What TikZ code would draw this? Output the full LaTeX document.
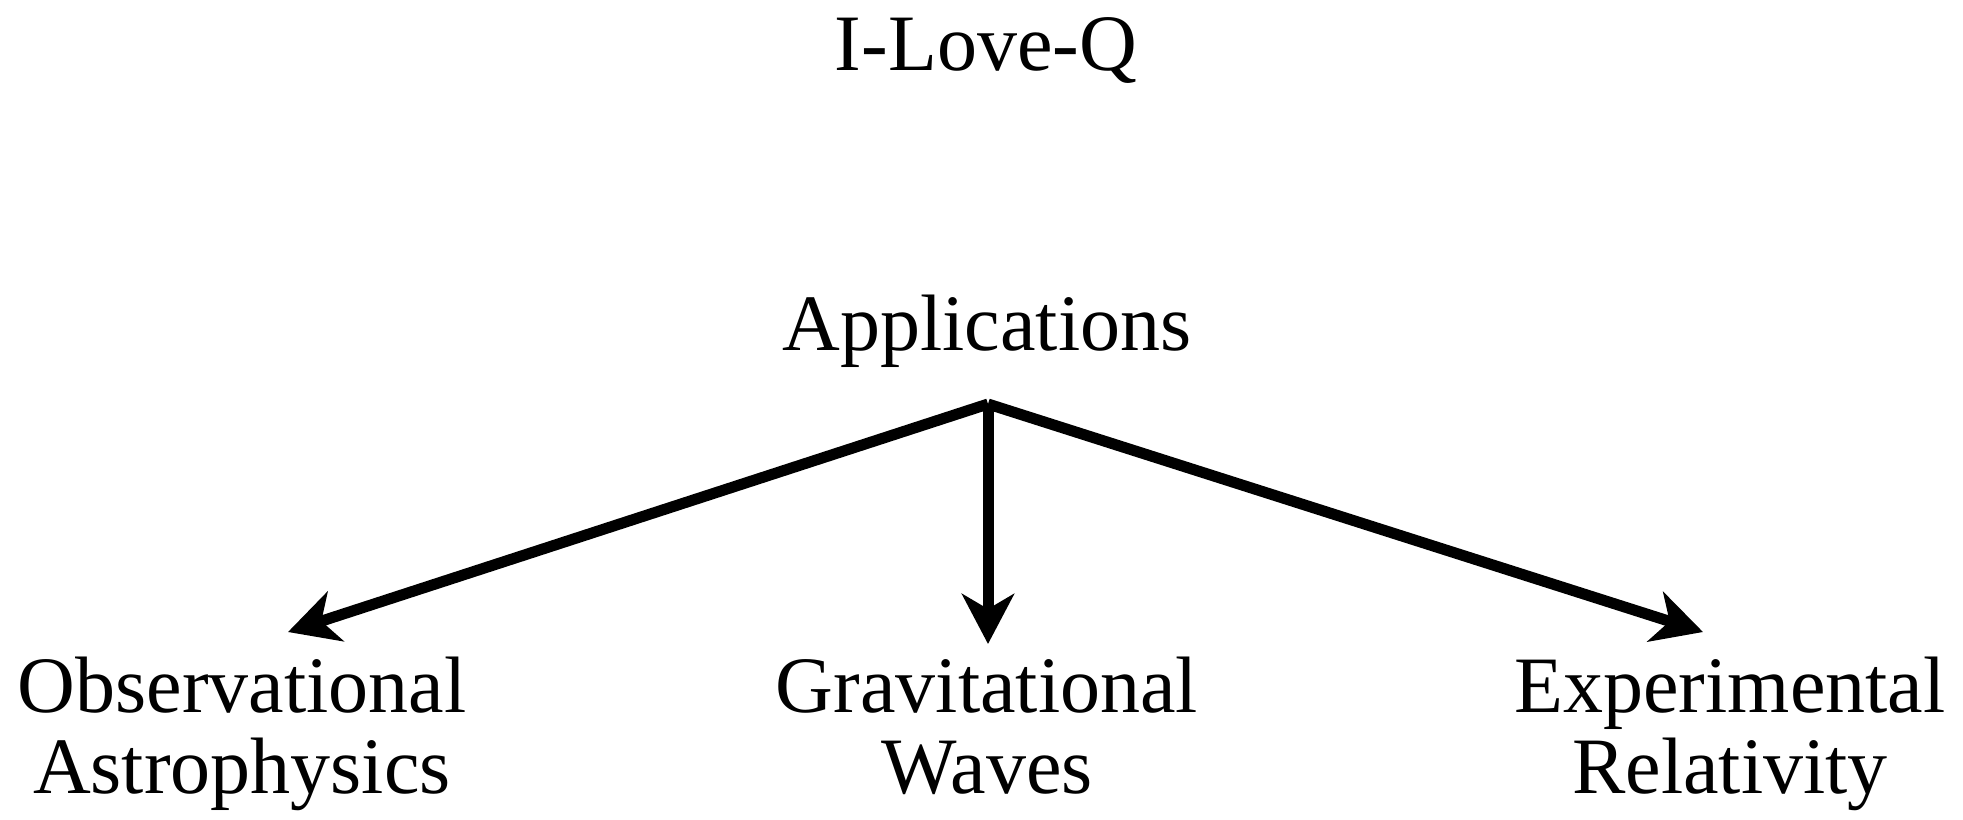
\documentclass[tikz,border=0pt]{standalone}
\usepackage{fontspec}
\setmainfont{Liberation Serif}
\usetikzlibrary{arrows.meta}
\begin{document}
\begin{tikzpicture}[x=0.5pt,y=-0.5pt,
  lbl/.style={inner sep=0pt, font=\fontsize{40}{40.5}\selectfont, align=center},
  conn/.style={line width=5.5pt, -{Stealth[length=25pt,width=26pt,inset=7.5pt]}}]
\useasboundingbox (0,0) rectangle (1963,819);
\node[lbl, anchor=base] (ilq) at (986,70) {I-Love-Q};
\node[lbl, anchor=base] (app) at (987,350) {Applications};
\coordinate (hub) at (988,404);
\node[lbl, anchor=base] (obs) at (242,793) {Observational\\Astrophysics};
\node[lbl, anchor=base] (gw) at (987,793) {Gravitational\\Waves};
\node[lbl, anchor=base] (exp) at (1730,793) {Experimental\\Relativity};
\coordinate (tipL) at (288,632);
\coordinate (tipM) at (988,644);
\coordinate (tipR) at (1703,632);
\draw[conn] (hub) -- (tipL);
\draw[conn] (hub) -- (tipM);
\draw[conn] (hub) -- (tipR);
\end{tikzpicture}
\end{document}
